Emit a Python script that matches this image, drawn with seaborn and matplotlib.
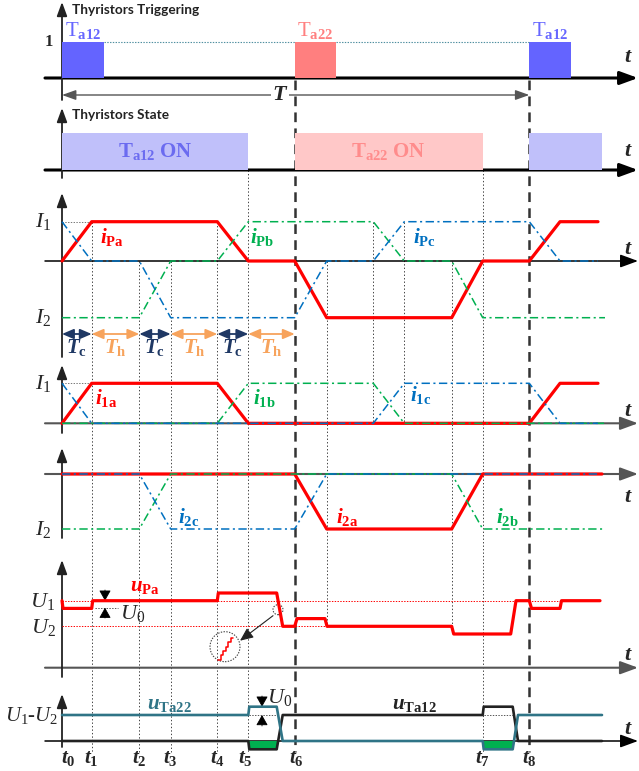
import matplotlib
matplotlib.use("Agg")
import numpy as np
import matplotlib.pyplot as plt
from matplotlib.patches import Circle
import seaborn as sns

# ---- values (time and amplitude in px units, t0 = 0) ----
t_knots = [0, 29.7, 77.3, 108.7, 155.3, 186.3, 232.7, 264.7, 311.3, 342.3, 389.7, 420.7, 467.3, 498.0, 536.0]

# thyristor triggering / state
trig_on = [0, 232.7, 467.3]
trig_len = [42.0, 41.3, 41.7]
trig_lab = ["a12", "a22", "a12"]
state_on = [0, 232.7, 467.3]
state_off = [186.3, 420.7, 539.7]

# phase currents iP
I1_p, I2_p = 39.3, -56.7
iPa = [0, I1_p, I1_p, I1_p, I1_p, 0, 0, I2_p, I2_p, I2_p, I2_p, 0, 0, I1_p, I1_p]
iPb = [I2_p, I2_p, I2_p, 0, 0, I1_p, I1_p, I1_p, I1_p, 0, 0, I2_p, I2_p, I2_p, I2_p]
iPc = [I1_p, 0, 0, I2_p, I2_p, I2_p, I2_p, 0, 0, I1_p, I1_p, I1_p, I1_p, 0, 0]

# i1 currents
I1_1 = 40.0
i1a = [0, I1_1, I1_1, I1_1, I1_1, 0, 0, 0, 0, 0, 0, 0, 0, I1_1, I1_1]
i1b = [0, 0, 0, 0, 0, I1_1, I1_1, I1_1, I1_1, 0, 0, 0, 0, 0, 0]
i1c = [I1_1, 0, 0, 0, 0, 0, 0, 0, 0, I1_1, I1_1, I1_1, I1_1, 0, 0]

# i2 currents
I2_2 = -55.0
i2a = [0, 0, 0, 0, 0, 0, 0, I2_2, I2_2, I2_2, I2_2, 0, 0, 0, 0]
i2b = [I2_2, I2_2, I2_2, 0, 0, 0, 0, 0, 0, 0, 0, I2_2, I2_2, I2_2, I2_2]
i2c = [0, 0, 0, I2_2, I2_2, I2_2, I2_2, 0, 0, 0, 0, 0, 0, 0, 0]

# phase voltage uPa
U1, U2, U0 = 67.0, 41.4, 7.7
t_uPa = [0, 1, 29.7, 30.7, 155.3, 156.3, 214.7, 220.7, 232.7, 235.0, 263.0, 265.0,
         389.7, 391.7, 448.7, 454.0, 467.3, 469.5, 498.0, 499.5, 538.0]
uPa = [U1, U1 - U0, U1 - U0, U1, U1, U1 + U0, U1 + U0, U2, U2, U2 + U0, U2 + U0, U2,
       U2, U2 - U0, U2 - U0, U1, U1, U1 - U0, U1 - U0, U1, U1]

# thyristor voltages
Ud, Ub = 26.0, 8.3
t_uT = [0, 186.3, 187.3, 214.7, 220.7, 420.7, 421.7, 450.7, 456.0, 540.0]
uTa22 = [Ud, Ud, Ud + Ub, Ud + Ub, 0, 0, -Ub, -Ub, Ud, Ud]
uTa12 = [0, 0, -Ub, -Ub, Ud, Ud, Ud + Ub, Ud + Ub, 0, 0]

# zoomed staircase inside the magnifier
stair_t = [156, 158.5, 158.5, 161, 161, 163.5, 163.5, 166, 166, 168.5, 168.5, 171]
stair_u = [8, 8, 12.5, 12.5, 17, 17, 21, 21, 25.5, 25.5, 30, 30]

t_names = ["0", "1", "2", "3", "4", "5", "6", "7", "8"]
t_idx = [0, 1, 2, 3, 4, 5, 6, 11, 12]

# ---- style ----
sns.set_theme(style="white")
plt.rcParams["font.family"] = ["Liberation Serif", "DejaVu Serif"]
plt.rcParams["mathtext.fontset"] = "custom"
plt.rcParams["mathtext.rm"] = "Liberation Serif"
plt.rcParams["mathtext.it"] = "Liberation Serif:italic"
plt.rcParams["mathtext.bf"] = "Liberation Serif:bold"
plt.rcParams["mathtext.bfit"] = "Liberation Serif:italic:bold"
plt.rcParams["lines.scale_dashes"] = False

RED, GREEN, BLUE = "#ff0000", "#00b050", "#0070c0"
TEAL, DARK = "#2f7486", "#222222"
NAVY, ORANGE = "#1f3864", "#f7a35c"
DASHDOT = (6, 2.5, 1.5, 2.5)

W, H, X0 = 639, 771, 62
fig = plt.figure(figsize=(W / 100, H / 100), dpi=100)

pix = fig.add_axes([0, 0, 1, 1], zorder=-1)
pix.set_xlim(0, W)
pix.set_ylim(H, 0)
pix.axis("off")


def panel(top, bot, base, unit=1.0):
    ax = fig.add_axes([0, 1 - bot / H, 1, (bot - top) / H])
    ax.set_xlim(-X0, W - X0)
    ax.set_ylim((base - bot) / unit, (base - top) / unit)
    ax.axis("off")
    return ax


def curve(ax, t, v, color, lw, dash=None, z=2):
    sns.lineplot(x=t, y=v, ax=ax, color=color, lw=lw, estimator=None, sort=False, zorder=z)
    if dash:
        ax.lines[-1].set_dashes(dash)


def ends(end):
    return t_knots[:-1] + [end]


def haxis(y, lw=1.2, color="black", t_y=None):
    pix.annotate("", xy=(638, y), xytext=(45, y),
                 arrowprops=dict(arrowstyle="-|>,head_length=0.6,head_width=0.22", lw=lw,
                                 color=color, mutation_scale=18, shrinkA=0, shrinkB=0))
    if t_y is not None:
        pix.text(628, t_y, r"$\mathbfit{t}$", fontsize=16, ha="center", va="center")


def vaxis(top, bot, lw=1.3, color="#222222"):
    pix.annotate("", xy=(X0, top), xytext=(X0, bot),
                 arrowprops=dict(arrowstyle="-|>,head_length=0.6,head_width=0.22", lw=lw,
                                 color=color, mutation_scale=14, shrinkA=0, shrinkB=0))


def tri(x, y_from, y_to):
    pix.annotate("", xy=(x, y_to), xytext=(x, y_from),
                 arrowprops=dict(arrowstyle="-|>,head_length=0.8,head_width=0.45", lw=0.6,
                                 color="black", mutation_scale=8, shrinkA=0, shrinkB=0))


# ---- shared vertical markers ----
for k in [6, 12]:
    pix.plot([X0 + t_knots[k]] * 2, [80, 752], color="#333333", lw=1.8, dashes=(7, 4.5))
dotted_lines = [(1, 222, 752), (2, 261, 752), (3, 261, 752), (4, 222, 752), (5, 170, 752),
                (7, 261, 627), (8, 222, 423), (9, 222, 423), (10, 261, 633), (11, 170, 752)]
for k, y0, y1 in dotted_lines:
    pix.plot([X0 + t_knots[k]] * 2, [y0, y1], color="#444444", lw=0.7, ls=(0, (1, 1.5)))

# ---- 1. triggering ----
ax1 = panel(0, 105, 78, unit=36)
ax1.bar(trig_on, [1] * 3, width=trig_len, align="edge", color=["#6464ff", "#ff7f7f", "#6464ff"], lw=0)
ax1.plot([trig_on[0] + trig_len[0], trig_on[1]], [1, 1], color="#4f8fa0", lw=0.8, ls=(0, (1, 1)))
ax1.plot([trig_on[1] + trig_len[1], trig_on[2]], [1, 1], color="#4f8fa0", lw=0.8, ls=(0, (1, 1)))
for s, w, lab, c in zip(trig_on, trig_len, trig_lab, ["#6666ff", "#ff8080", "#6666ff"]):
    ax1.text(s + w / 2, 1.33, r"$\mathrm{T}_{\mathbf{%s}}$" % lab, color=c, fontsize=15,
             ha="center", va="center")
haxis(78, lw=2.2, t_y=58)
vaxis(2, 100)
pix.text(72, 10, "Thyristors Triggering", family="Lato", fontweight="bold", fontsize=9.8,
         color="#222222", va="center")
pix.text(49, 42, "1", fontweight="bold", fontsize=12, ha="center", va="center")
pix.annotate("", xy=(X0, 95), xytext=(X0 + t_knots[12], 95),
             arrowprops=dict(arrowstyle="<|-|>,head_length=0.7,head_width=0.25", lw=1,
                             color="#555555", mutation_scale=12, shrinkA=0, shrinkB=0))
pix.text(280, 95, r"$\mathbfit{T}$", fontsize=16, ha="center", va="center",
         bbox=dict(fc="white", ec="none", pad=1))

# ---- 2. state ----
ax2 = panel(105, 185, 170)
ax2.bar(state_on, [37] * 3, width=np.subtract(state_off, state_on), align="edge",
        color=["#c0c0fa", "#ffc8c8", "#c0c0fa"], lw=0)
ax2.text((state_on[0] + state_off[0]) / 2, 18, r"$\mathbf{T}_{\mathbf{a12}}\ \mathbf{ON}$",
         color="#6b6bf0", fontsize=15, ha="center", va="center")
ax2.text((state_on[1] + state_off[1]) / 2, 18, r"$\mathbf{T}_{\mathbf{a22}}\ \mathbf{ON}$",
         color="#ff8c8c", fontsize=15, ha="center", va="center")
haxis(170, lw=2.2, t_y=152)
vaxis(108, 178)
pix.text(72, 115, "Thyristors State", family="Lato", fontweight="bold", fontsize=9.8,
         color="#222222", va="center")

# ---- 3. iP ----
ax3 = panel(185, 360, 261)
curve(ax3, ends(543), iPb, GREEN, 1.1, DASHDOT, 3)
curve(ax3, t_knots, iPc, BLUE, 1.1, DASHDOT, 3)
curve(ax3, t_knots, iPa, RED, 2.3, None, 2)
haxis(261, lw=1.1, t_y=250)
vaxis(193, 357)
pix.plot([X0, X0 + t_knots[1]], [222, 222], color="#777777", lw=0.7, ls=(0, (1, 1)))
pix.text(43, 222, r"$I_1$", fontsize=16, ha="center", va="center")
pix.text(43, 318, r"$I_2$", fontsize=16, ha="center", va="center")
pix.text(100, 237, r"$\mathbfit{i}_{\mathbf{Pa}}$", color=RED, fontsize=15, va="center")
pix.text(250, 237, r"$\mathbfit{i}_{\mathbf{Pb}}$", color=GREEN, fontsize=15, va="center")
pix.text(413, 237, r"$\mathbfit{i}_{\mathbf{Pc}}$", color=BLUE, fontsize=15, va="center")
for k in range(6):
    c = NAVY if k % 2 == 0 else ORANGE
    a, b = X0 + t_knots[k], X0 + t_knots[k + 1]
    pix.annotate("", xy=(a, 334), xytext=(b, 334),
                 arrowprops=dict(arrowstyle="<|-|>,head_length=0.7,head_width=0.3", lw=1.3,
                                 color=c, mutation_scale=10, shrinkA=0, shrinkB=0))
    pix.text((a + b) / 2, 348, r"$\mathbfit{T}_{\mathbf{%s}}$" % ("c" if k % 2 == 0 else "h"),
             color=c, fontsize=15, ha="center", va="center")

# ---- 4. i1 ----
ax4 = panel(360, 440, 423.3)
curve(ax4, t_knots, i1a, RED, 2.3, None, 2)
curve(ax4, ends(543), i1b, GREEN, 1.1, DASHDOT, 3)
curve(ax4, t_knots, i1c, BLUE, 1.1, DASHDOT, 3)
haxis(423.3, lw=1.5, color="#555555", t_y=411)
vaxis(365, 433)
pix.plot([X0, X0 + t_knots[1]], [383, 383], color="#777777", lw=0.7, ls=(0, (1, 1)))
pix.text(43, 383, r"$I_1$", fontsize=16, ha="center", va="center")
pix.text(95, 398, r"$\mathbfit{i}_{\mathbf{1a}}$", color=RED, fontsize=15, va="center")
pix.text(253, 398, r"$\mathbfit{i}_{\mathbf{1b}}$", color=GREEN, fontsize=15, va="center")
pix.text(410, 395, r"$\mathbfit{i}_{\mathbf{1c}}$", color=BLUE, fontsize=15, va="center")

# ---- 5. i2 ----
ax5 = panel(440, 545, 474)
curve(ax5, ends(540), i2a, RED, 2.3, None, 2)
curve(ax5, ends(543), i2b, GREEN, 1.1, DASHDOT, 3)
curve(ax5, t_knots, i2c, BLUE, 1.1, DASHDOT, 3)
haxis(474, lw=1.5, color="#555555", t_y=497)
vaxis(448, 538)
pix.text(43, 529, r"$I_2$", fontsize=16, ha="center", va="center")
pix.text(178, 517, r"$\mathbfit{i}_{\mathbf{2c}}$", color=BLUE, fontsize=15, va="center")
pix.text(336, 517, r"$\mathbfit{i}_{\mathbf{2a}}$", color=RED, fontsize=15, va="center")
pix.text(496, 517, r"$\mathbfit{i}_{\mathbf{2b}}$", color=GREEN, fontsize=15, va="center")

# ---- 6. uPa ----
ax6 = panel(545, 685, 667.7)
ax6.plot([0, 538], [U1, U1], color=RED, lw=0.7, ls=(0, (1, 1)))
ax6.plot([0, 264], [U2, U2], color=RED, lw=0.7, ls=(0, (1, 1)))
curve(ax6, t_uPa, uPa, RED, 2.3, None, 2)
ax6.add_patch(Circle((163, 21), 15, fill=False, ec="#444444", lw=0.8, ls=(0, (1, 1))))
ax6.add_patch(Circle((216, 58), 5, fill=False, ec="#444444", lw=0.8, ls=(0, (1, 1))))
ax6.plot(stair_t, stair_u, color=RED, lw=1.1)
ax6.annotate("", xy=(178, 27), xytext=(211, 52),
             arrowprops=dict(arrowstyle="-|>,head_length=0.8,head_width=0.35", lw=0.8,
                             color="#222222", mutation_scale=10, shrinkA=0, shrinkB=0))
haxis(667.7, lw=1.5, color="#555555", t_y=655)
vaxis(560, 677)
pix.text(43, 601, r"$U_1$", fontsize=16, ha="center", va="center")
pix.text(43, 627, r"$U_2$", fontsize=16, ha="center", va="center")
pix.text(130, 587, r"$\mathbfit{u}_{\mathbf{Pa}}$", color=RED, fontsize=15, va="center")
pix.plot([95, 118], [607.7, 607.7], color="#555555", lw=0.7, ls=(0, (1, 1)))
tri(105, 590, 600.7)
tri(105, 618, 607.7)
pix.text(120, 613, r"$U_0$", fontsize=16, va="center")

# ---- 7. uT ----
ax7 = panel(685, 771, 741)
ut12 = np.array(uTa12)
ut22 = np.array(uTa22)
ax7.fill_between(t_uT, ut12, 0, where=ut12 < 0, color=GREEN, lw=0, zorder=1)
ax7.fill_between(t_uT, ut22, 0, where=ut22 < 0, color=GREEN, lw=0, zorder=1)
ax7.plot([t_uT[2], t_uT[3]], [Ud, Ud], color="#555555", lw=0.7, ls=(0, (1, 1)))
ax7.plot([t_uT[6], t_uT[7]], [Ud, Ud], color="#555555", lw=0.7, ls=(0, (1, 1)))
curve(ax7, t_uT, uTa12, DARK, 1.9, None, 3)
curve(ax7, t_uT, uTa22, TEAL, 1.9, None, 3)
haxis(741, lw=1.1, t_y=729)
vaxis(694, 747)
pix.text(58, 715, r"$U_1$-$U_2$", fontsize=15, ha="right", va="center")
pix.text(147, 705, r"$\mathbfit{u}_{\mathbf{Ta22}}$", color=TEAL, fontsize=15, va="center")
pix.text(392, 705, r"$\mathbfit{u}_{\mathbf{Ta12}}$", color=DARK, fontsize=15, va="center")
tri(262, 696, 706.7)
tri(262, 726, 715)
pix.text(267, 697, r"$U_0$", fontsize=16, va="center")
t_dx = [6, 0, 0, 0, 0, -3, 2, 0, 0]
for name, k, dx in zip(t_names, t_idx, t_dx):
    pix.text(X0 + t_knots[k] + dx, 759, r"$\mathbfit{t}_{\mathbf{%s}}$" % name, fontsize=15,
             ha="center", va="center")

fig.savefig("out.png", dpi=100)
